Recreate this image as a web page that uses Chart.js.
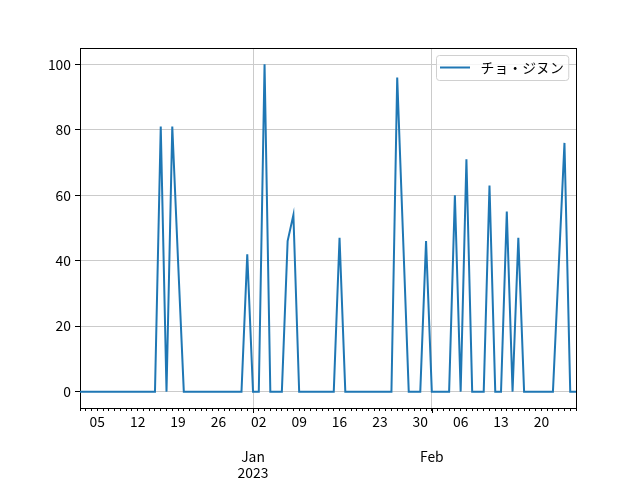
<!DOCTYPE html>
<html>
<head>
<meta charset="utf-8">
<script src="https://cdn.jsdelivr.net/npm/chart.js@4.4.1/dist/chart.umd.min.js"></script>
<style>
  html, body { margin: 0; padding: 0; background: #ffffff; }
  canvas { display: block; }
</style>
</head>
<body>
<canvas id="c" width="640" height="480"></canvas>
<script>
// ---- data (one value per day, starting 2022-12-02) ----
const startDate = '2022-12-02';
const seriesLabel = 'チョ・ジヌン';
const values = [
  0, 0, 0, 0, 0, 0, 0, 0, 0, 0,      // Dec 02 - Dec 11
  0, 0, 0, 0, 81, 0, 81, 40, 0, 0,   // Dec 12 - Dec 21
  0, 0, 0, 0, 0, 0, 0, 0, 0, 42,     // Dec 22 - Dec 31
  0, 0, 100, 0, 0, 0, 46, 54, 0, 0,  // Jan 01 - Jan 10
  0, 0, 0, 0, 0, 47, 0, 0, 0, 0,     // Jan 11 - Jan 20
  0, 0, 0, 0, 0, 96, 48, 0, 0, 0,    // Jan 21 - Jan 30
  46, 0, 0, 0, 0, 60, 0, 71, 0, 0,   // Jan 31 - Feb 09
  0, 63, 0, 0, 55, 0, 47, 0, 0, 0,   // Feb 10 - Feb 19
  0, 0, 0, 38, 76, 0, 0              // Feb 20 - Feb 26
];
// weekly day-of-month tick labels (day index from startDate)
const weekTickDays = [3, 10, 17, 24, 31, 38, 45, 52, 59, 66, 73, 80];
const weekTickLabels = ['05', '12', '19', '26', '02', '09', '16', '23', '30', '06', '13', '20'];
// month tick labels
const monthTickDays = [30, 61];
const monthTickLabels = [['Jan', '2023'], ['Feb']];
// y ticks
const yTicks = [0, 20, 40, 60, 80, 100];

const points = values.map((v, i) => ({ x: i, y: v }));
const dayCount = values.length - 1;

Chart.defaults.font.family = "'Noto Sans CJK JP', 'Noto Sans', sans-serif";
Chart.defaults.font.size = 13.89;
Chart.defaults.color = '#000000';

const GRID = '#cbcbcb';

// longer major tick marks at month starts (positions from the x scale)
const majorTicks = {
  id: 'majorTicks',
  afterDraw(chart) {
    const ctx = chart.ctx;
    const sx = chart.scales.x;
    ctx.save();
    ctx.strokeStyle = '#000';
    ctx.lineWidth = 1;
    monthTickDays.forEach(d => {
      const px = Math.round(sx.getPixelForValue(d)) + 0.5;
      ctx.beginPath();
      ctx.moveTo(px, sx.top);
      ctx.lineTo(px, sx.top + 5);
      ctx.stroke();
    });
    ctx.restore();
  }
};

const legendBox = {
  id: 'legendBox',
  afterDatasetsDraw(chart) {
    const ctx = chart.ctx;
    const ca = chart.chartArea;
    const ds = chart.data.datasets[0];
    ctx.save();
    ctx.font = "13.89px 'Noto Sans CJK JP', sans-serif";
    const tw = ctx.measureText(ds.label).width;
    const w = 44 + tw + 5;
    const h = 25;
    const x0 = Math.round(ca.right - 8 - w) + 0.5;
    const y0 = Math.round(ca.top + 7) + 0.5;
    ctx.beginPath();
    ctx.roundRect(x0, y0, w, h, 3);
    ctx.fillStyle = 'rgba(255,255,255,0.8)';
    ctx.fill();
    ctx.strokeStyle = '#d0d0d0';
    ctx.lineWidth = 1;
    ctx.stroke();
    const ly = y0 + h / 2 - 0.5;
    ctx.beginPath();
    ctx.moveTo(x0 + 3.5, ly);
    ctx.lineTo(x0 + 33.5, ly);
    ctx.strokeStyle = ds.borderColor;
    ctx.lineWidth = 2;
    ctx.stroke();
    ctx.fillStyle = '#000';
    ctx.textBaseline = 'middle';
    ctx.textAlign = 'left';
    ctx.fillText(ds.label, x0 + 44, ly);
    ctx.restore();
  }
};

new Chart(document.getElementById('c'), {
  type: 'line',
  data: {
    datasets: [{
      label: seriesLabel,
      data: points,
      borderColor: '#1f77b4',
      backgroundColor: '#1f77b4',
      borderWidth: 2,
      pointRadius: 0,
      tension: 0,
      fill: false
    }]
  },
  options: {
    responsive: false,
    animation: false,
    devicePixelRatio: 1,
    layout: { padding: 0 },
    plugins: {
      legend: { display: false },
      tooltip: { enabled: false }
    },
    scales: {
      x: {
        type: 'linear',
        position: 'bottom',
        weight: 0,
        min: 0,
        max: dayCount,
        afterBuildTicks: (s) => { s.ticks = values.map((v, i) => ({ value: i })); },
        afterFit: (s) => { s.height = 28; },
        ticks: {
          autoSkip: false,
          maxRotation: 0,
          minRotation: 0,
          padding: 2,
          callback: (v) => {
            const k = weekTickDays.indexOf(v);
            return k >= 0 ? weekTickLabels[k] : '';
          }
        },
        grid: {
          drawOnChartArea: false,
          drawTicks: true,
          tickLength: 3,
          tickColor: '#000',
          tickWidth: 1
        },
        border: { display: true, color: '#000', width: 1 }
      },
      x2: {
        type: 'linear',
        position: 'bottom',
        weight: 1,
        min: 0,
        max: dayCount,
        afterBuildTicks: (s) => { s.ticks = monthTickDays.map(d => ({ value: d })); },
        afterFit: (s) => { s.height = 44; },
        ticks: {
          autoSkip: false,
          maxRotation: 0,
          padding: 12,
          callback: (v) => {
            const k = monthTickDays.indexOf(v);
            return k >= 0 ? monthTickLabels[k] : '';
          }
        },
        grid: {
          drawOnChartArea: true,
          drawTicks: false,
          color: GRID,
          lineWidth: 1
        },
        border: { display: false }
      },
      xTop: {
        type: 'linear',
        position: 'top',
        min: 0,
        max: dayCount,
        afterFit: (s) => { s.height = 48; },
        ticks: { display: false },
        grid: { drawOnChartArea: false, drawTicks: false },
        border: { display: true, color: '#000', width: 1 }
      },
      y: {
        type: 'linear',
        position: 'left',
        min: -5,
        max: 105,
        afterBuildTicks: (s) => { s.ticks = yTicks.map(v => ({ value: v })); },
        afterFit: (s) => { s.width = 80; },
        ticks: {
          padding: 4
        },
        grid: {
          drawOnChartArea: true,
          color: GRID,
          lineWidth: 1,
          drawTicks: true,
          tickLength: 5,
          tickColor: '#000'
        },
        border: { display: true, color: '#000', width: 1 }
      },
      yRight: {
        type: 'linear',
        position: 'right',
        min: -5,
        max: 105,
        afterFit: (s) => { s.width = 64; },
        ticks: { display: false },
        grid: { drawOnChartArea: false, drawTicks: false },
        border: { display: true, color: '#000', width: 1 }
      }
    }
  },
  plugins: [legendBox, majorTicks]
});
</script>
</body>
</html>
